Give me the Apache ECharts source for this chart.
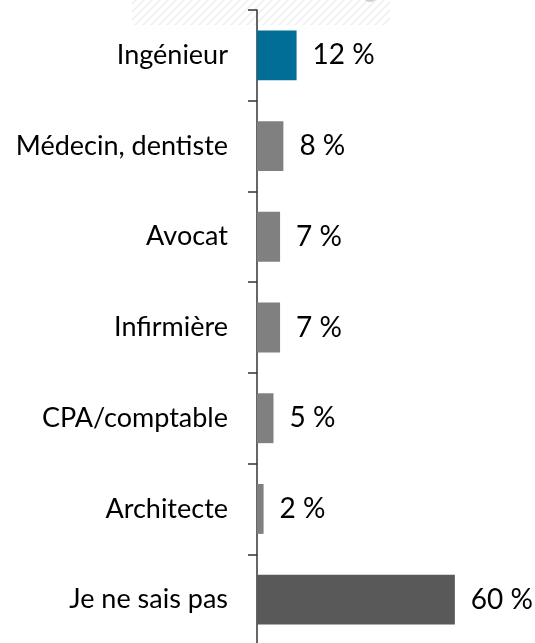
<!DOCTYPE html>
<html>
<head>
<meta charset="utf-8">
<script src="https://cdn.jsdelivr.net/npm/echarts@6/dist/echarts.min.js"></script>
<style>
  html, body { margin: 0; padding: 0; background: #fff; }
  #main { width: 535px; height: 643px; }
</style>
</head>
<body>
<div id="main"></div>
<script>
// professions (top to bottom) and share of answers, in %
const categories = ['Ingénieur', 'Médecin, dentiste', 'Avocat', 'Infirmière', 'CPA/comptable', 'Architecte', 'Je ne sais pas']
const values = [12, 8, 7, 7, 5, 2, 60]
const barColors = ['#006E96', '#808080', '#808080', '#808080', '#808080', '#808080', '#595959']

// faint diagonal hatching left over at the top edge of the picture
function hatchPattern() {
    const c = document.createElement('canvas')
    c.width = 8
    c.height = 8
    const ctx = c.getContext('2d')
    ctx.strokeStyle = '#eeeeee'
    ctx.lineWidth = 1.5
    ctx.beginPath()
    ctx.moveTo(0, 8); ctx.lineTo(8, 0)
    ctx.moveTo(-4, 4); ctx.lineTo(4, -4)
    ctx.moveTo(4, 12); ctx.lineTo(12, 4)
    ctx.stroke()
    return c
}

const chart = echarts.init(document.getElementById('main'))

const option = {
    animation: false,
    graphic: [{
        type: 'rect',
        silent: true,
        z: -10,
        shape: { x: 132, y: 0, width: 258, height: 25 },
        style: { fill: { image: hatchPattern(), repeat: 'repeat' } }
    }, {
        type: 'circle',
        silent: true,
        z: -9,
        shape: { cx: 370, cy: -6, r: 8 },
        style: { fill: '#d0d0d0' }
    }],
    grid: {
        left: 257,
        top: 10,
        width: 277,
        height: 635,
        outerBoundsMode: 'none',
        containLabel: false
    },
    xAxis: {
        type: 'value',
        min: 0,
        max: 84,
        show: false
    },
    yAxis: {
        type: 'category',
        inverse: true,
        data: categories,
        axisLine: { show: true, lineStyle: { color: '#333', width: 1.5 } },
        axisTick: { show: true, length: 9, lineStyle: { color: '#333', width: 1.5 } },
        axisLabel: {
            margin: 29,
            color: '#000',
            fontFamily: 'Lato',
            fontSize: 27
        }
    },
    series: [{
        type: 'bar',
        data: values.map((v, i) => ({ value: v, itemStyle: { color: barColors[i] } })),
        barCategoryGap: '45%',
        label: {
            show: true,
            position: 'right',
            distance: 16,
            formatter: '{c} %',
            color: '#000',
            fontFamily: 'Lato',
            fontSize: 28
        }
    }]
}

chart.setOption(option)
</script>
</body>
</html>
